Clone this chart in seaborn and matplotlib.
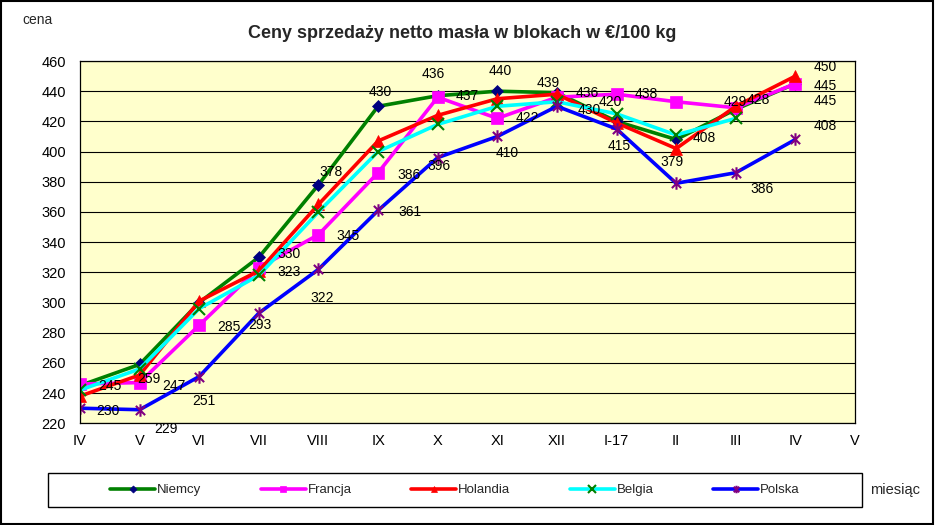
import numpy as np
import pandas as pd
import matplotlib
matplotlib.use("Agg")
import matplotlib.pyplot as plt
import seaborn as sns
from matplotlib.path import Path
from matplotlib.patches import Rectangle

# ---------------- data ----------------
months = ["IV", "V", "VI", "VII", "VIII", "IX", "X", "XI", "XII", "I-17", "II", "III", "IV", "V"]
niemcy = [245, 259, 300, 330, 378, 430, 437, 440, 439, 420, 408, 428, 445]
francja = [246, 247, 285, 323, 345, 386, 436, 422, 436, 438, 433, 429, 445]
holandia = [238, 252, 301, 321, 365, 407, 424, 435, 438, 419, 402, 430, 450]
belgia = [242, 256, 296, 318, 360, 400, 418, 430, 433, 425, 411, 422, np.nan]
polska = [230, 229, 251, 293, 322, 361, 396, 410, 430, 415, 379, 386, 408]
series_names = ["Niemcy", "Francja", "Holandia", "Belgia", "Polska"]
yticks = list(range(220, 461, 20))

# data labels: (series, month index); placement offsets kept separately
label_points = [
    ("Niemcy", 0), ("Polska", 0),
    ("Niemcy", 1), ("Francja", 1), ("Polska", 1),
    ("Francja", 2), ("Polska", 2),
    ("Niemcy", 3), ("Francja", 3), ("Polska", 3),
    ("Niemcy", 4), ("Francja", 4), ("Polska", 4),
    ("Niemcy", 5), ("Francja", 5), ("Polska", 5),
    ("Francja", 6), ("Niemcy", 6), ("Polska", 6),
    ("Niemcy", 7), ("Francja", 7), ("Polska", 7),
    ("Niemcy", 8), ("Francja", 8), ("Polska", 8),
    ("Niemcy", 9), ("Francja", 9), ("Polska", 9),
    ("Polska", 10), ("Niemcy", 10),
    ("Francja", 11), ("Niemcy", 11), ("Polska", 11),
    ("Holandia", 12), ("Francja", 12), ("Niemcy", 12), ("Polska", 12),
]
# pixel offsets (dx right, dy down)
label_offsets = [
    (30, 0), (28, 3),
    (9, 15), (34, 3), (26, 19),
    (30, 2), (5, 24),
    (30, -3), (30, 4), (1, 12),
    (13, -12.5), (30, 1), (4, 29),
    (2.5, -14), (31, 2), (32, 2),
    (-4, -23), (30, 0), (1, 8),
    (3, -20.5), (30, 0), (10, 17),
    (-9, -10), (30, -4), (32, 4),
    (-6, -19), (30, 0), (3, 17),
    (-4, -21.6), (28, -1),
    (-1, -6), (23, -9), (26, 16),
    (30, -9.4), (30, 2), (30, 17), (30, -13),
]

# ---------------- style ----------------
sns.set_style("white")
plt.rcParams["font.family"] = ["Liberation Sans", "DejaVu Sans"]

W, H = 935, 525
fig = plt.figure(figsize=(W / 100, H / 100), dpi=100)
fig.patch.set_facecolor("white")

left, right, top, bottom = 80, 855, 61, 423.3
ax = fig.add_axes([left / W, (H - bottom) / H, (right - left) / W, (bottom - top) / H])
ax.set_facecolor("#FFFFCC")

star = Path([(-1, -1), (1, 1), (-1, 1), (1, -1), (0, -1.35), (0, 1.35)],
            [Path.MOVETO, Path.LINETO, Path.MOVETO, Path.LINETO, Path.MOVETO, Path.LINETO])

styles = {
    "Niemcy": dict(color="#008000", marker="D", markersize=6, markerfacecolor="#000080",
                   markeredgecolor="#000080", markeredgewidth=0.5),
    "Francja": dict(color="#FF00FF", marker="s", markersize=8, markerfacecolor="#FF00FF",
                    markeredgecolor="#FF00FF", markeredgewidth=0.5),
    "Holandia": dict(color="#FF0000", marker="^", markersize=8, markerfacecolor="#FF0000",
                     markeredgecolor="#FF0000", markeredgewidth=0.5),
    "Belgia": dict(color="#00FFFF", marker="x", markersize=9, markerfacecolor="none",
                   markeredgecolor="#008000", markeredgewidth=1.5),
    "Polska": dict(color="#0000FF", marker=star, markersize=9, markerfacecolor="none",
                   markeredgecolor="#800080", markeredgewidth=1.5),
}
values = {"Niemcy": niemcy, "Francja": francja, "Holandia": holandia,
          "Belgia": belgia, "Polska": polska}

xs = np.arange(len(niemcy))
for name in series_names:
    df = pd.DataFrame({"x": xs, "y": values[name]}).dropna()
    sns.lineplot(data=df, x="x", y="y", ax=ax, linewidth=2.6, label=name,
                 errorbar=None, sort=False, **styles[name])

# data labels
for (name, i), (dx, dy) in zip(label_points, label_offsets):
    v = values[name][i]
    ax.annotate(f"{v:.0f}", xy=(i, v), xytext=(dx, -dy), textcoords="offset pixels",
                ha="center", va="center", fontsize=10, color="black", zorder=10)

ax.set_xlim(0, 13)
ax.set_ylim(220, 460)
ax.set_xticks(range(len(months)))
ax.set_xticklabels(months)
ax.set_yticks(yticks)
ax.set_xlabel("")
ax.set_ylabel("")
ax.yaxis.grid(True, color="black", linewidth=0.8)
ax.xaxis.grid(False)
ax.set_axisbelow(True)
for s in ax.spines.values():
    s.set_color("black")
    s.set_linewidth(0.9)
ax.tick_params(axis="both", direction="out", length=5, width=0.8, color="black",
               labelsize=10.5, labelcolor="black")
ax.tick_params(axis="y", pad=5)
ax.tick_params(axis="x", pad=3)

# legend
handles, labels = ax.get_legend_handles_labels()
if ax.get_legend() is not None:
    ax.get_legend().remove()
fig.patches.append(Rectangle((48 / W, (H - 507) / H), (862 - 48) / W, (507 - 473) / H,
                             transform=fig.transFigure, fill=False, edgecolor="black",
                             linewidth=1.0))
fig.legend(handles, labels, loc="center", ncol=5, mode="expand",
           bbox_to_anchor=(105 / W, (H - 505) / H, (805 - 105) / W, (505 - 475) / H),
           frameon=False, fontsize=9.5, handlelength=3.4, handletextpad=0.15,
           markerscale=0.6, borderaxespad=0)

# texts
fig.text(462 / W, 1 - 33 / H, "Ceny sprzedaży netto masła w blokach w €/100 kg",
         ha="center", va="center", fontsize=13, fontweight="bold")
fig.text(22 / W, 1 - 20 / H, "cena", ha="left", va="center", fontsize=10)
fig.text(870 / W, 1 - 490 / H, "miesiąc", ha="left", va="center", fontsize=10.5)

# outer border
fig.patches.append(Rectangle((0.001, 0.002), 0.997, 0.996, transform=fig.transFigure,
                             fill=False, edgecolor="black", linewidth=1.5))

fig.savefig("out.png", dpi=100)
